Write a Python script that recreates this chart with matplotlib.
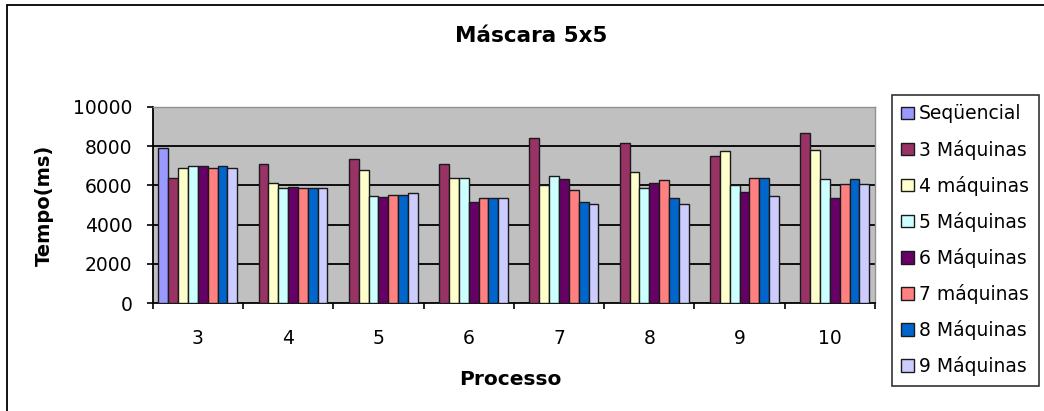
import numpy as np
import matplotlib
matplotlib.use("Agg")
import matplotlib.pyplot as plt
from matplotlib.patches import Rectangle

plt.rcParams['font.family'] = ['DejaVu Sans']

categories = ["3", "4", "5", "6", "7", "8", "9", "10"]
series_names = ["Seqüencial", "3 Máquinas", "4 máquinas", "5 Máquinas",
                "6 Máquinas", "7 máquinas", "8 Máquinas", "9 Máquinas"]
colors = ["#9999FF", "#993366", "#FFFFCC", "#CCFFFF",
          "#660066", "#FF8080", "#0066CC", "#CCCCFF"]

seq = [7900, None, None, None, None, None, None, None]
m3 = [6400, 7100, 7350, 7100, 8400, 8150, 7500, 8650]
m4 = [6900, 6100, 6800, 6400, 6000, 6700, 7750, 7800]
m5 = [7000, 5850, 5450, 6400, 6500, 5850, 6000, 6350]
m6 = [7000, 5900, 5430, 5150, 6350, 6100, 5650, 5350]
m7 = [6900, 5880, 5500, 5350, 5750, 6300, 6400, 6050]
m8 = [7000, 5850, 5500, 5350, 5150, 5350, 6400, 6350]
m9 = [6900, 5880, 5600, 5350, 5050, 5050, 5450, 6050]

yticks = [0, 2000, 4000, 6000, 8000, 10000]
title = "Máscara 5x5"
xlabel = "Processo"
ylabel = "Tempo(ms)"

series = [seq, m3, m4, m5, m6, m7, m8, m9]

W, H = 1044, 411
fig = plt.figure(figsize=(W / 100, H / 100), dpi=100)
ax = fig.add_axes([152.7 / W, 1 - 303 / H, (875 - 152.7) / W, (303 - 107) / H])
ax.set_facecolor("#C0C0C0")

x = np.arange(len(categories))
bw = 0.109
n = len(series)
for i, (vals, name, c) in enumerate(zip(series, series_names, colors)):
    v = np.array([np.nan if a is None else a for a in vals], dtype=float)
    ax.bar(x + (i - (n - 1) / 2) * bw, v, width=bw, color=c,
           edgecolor="#1a1a1a", linewidth=1.0, label=name, zorder=3)

ax.set_xlim(-0.5, len(categories) - 0.5)
ax.set_ylim(yticks[0], yticks[-1])
ax.set_yticks(yticks)
ax.set_yticklabels([str(t) for t in yticks])
ax.yaxis.grid(True, color="black", linewidth=1.3)
ax.set_axisbelow(True)
ax.yaxis.get_gridlines()[-1].set_visible(False)
ax.yaxis.get_gridlines()[0].set_visible(False)

ax.set_xticks(x)
ax.set_xticklabels(categories)
ax.set_xticks(np.arange(-0.5, len(categories), 1.0), minor=True)
ax.tick_params(axis="x", which="major", length=0, pad=19, labelsize=13.5)
ax.tick_params(axis="x", which="minor", length=4.5, width=1.2, direction="out")
ax.tick_params(axis="y", which="major", length=4.5, width=1.2, direction="out",
               pad=10, labelsize=13.5)

for s in ["left", "bottom"]:
    ax.spines[s].set_color("black")
    ax.spines[s].set_linewidth(1.3)
for s in ["top", "right"]:
    ax.spines[s].set_color("#909090")
    ax.spines[s].set_linewidth(1.0)

fig.text(531 / W, 1 - 36 / H, title, ha="center", va="center",
         fontsize=15.5, fontweight="bold")
fig.text(510 / W, 1 - 379 / H, xlabel, ha="center", va="center",
         fontsize=14.5, fontweight="bold")
fig.text(44 / W, 1 - 205 / H, ylabel, ha="center", va="center",
         fontsize=14, fontweight="bold", rotation=90)

leg = fig.legend(loc="upper left", bbox_to_anchor=(892 / W, 1 - 95 / H),
                 bbox_transform=fig.transFigure, fontsize=13.5,
                 frameon=True, fancybox=False, edgecolor="black",
                 handlelength=0.65, handleheight=0.65, handletextpad=0.3,
                 labelspacing=0.86, borderpad=0.5, borderaxespad=0)
leg.get_frame().set_linewidth(1.2)

fig.patches.append(Rectangle((7 / W, -0.1), 1.2, 1.1 - 5 / H,
                             transform=fig.transFigure, fill=False,
                             edgecolor="black", linewidth=1.3))

fig.savefig("out.png", dpi=100, facecolor="white")
